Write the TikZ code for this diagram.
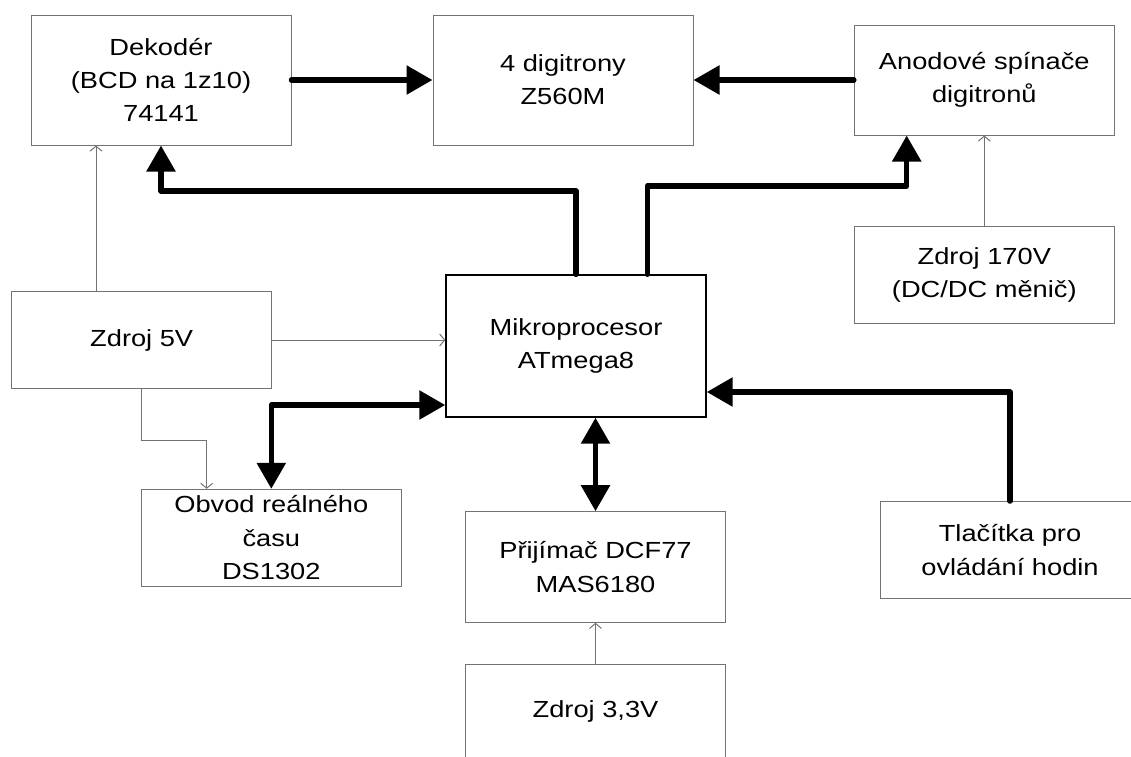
\documentclass[tikz,border=0pt]{standalone}
\usepackage{fontspec}
\setmainfont{Liberation Sans}[FakeStretch=1.17]
\usetikzlibrary{positioning,arrows.meta}
\definecolor{sedocerna}{rgb}{0.45,0.45,0.45}

\begin{document}
\begin{tikzpicture}[x=1pt, y=-1pt, on grid, semithick,
    font=\fontsize{23.3}{33.3}\selectfont,
    blok/.style={rectangle, draw=sedocerna, line width=1pt, minimum width=260pt, inner sep=0pt, align=center},
    bus/.style={line width=5.5pt, line cap=round, line join=round, -{Triangle[length=26pt,width=28pt]}},
    obous/.style={line width=5.5pt, line join=round, {Triangle[length=26pt,width=28pt]}-{Triangle[length=26pt,width=28pt]}},
    napajeni/.style={draw=sedocerna, line width=1pt, -{Straight Barb[length=5pt,width=12pt]}}]
			\useasboundingbox (0,0) rectangle (1131,756);
			\node [blok, minimum height=130pt] (dek) at (161,80) {Dekodér\\(BCD na 1z10)\\74141};
			\node [blok, minimum height=130pt] (dig) [right=402pt of dek] {4 digitrony\\Z560M};
			\node [blok, minimum height=110pt] (ano) [right=421.3pt of dig] {Anodové spínače\\digitronů};
			\node [blok, minimum height=96.7pt] (z170) [below=195pt of ano] {Zdroj 170V\\(DC/DC měnič)};
			\node [blok, draw=black, line width=1.4pt, minimum height=142pt] (mcu) [below right=266pt and 13pt of dig] {Mikroprocesor\\ATmega8};
			\node [blok, minimum height=96.7pt] (z5) [below left=260pt and 19.3pt of dek] {Zdroj 5V};
			\node [blok, minimum height=96.7pt] (rtc) [below right=197.7pt and 129.6pt of z5] {Obvod reálného\\času\\DS1302};
			\node [blok, minimum height=110.6pt] (dcf) [below right=221pt and 19.5pt of mcu] {Přijímač DCF77\\MAS6180};
			\node [blok, minimum height=95pt] (z33) [below=144.7pt of dcf] {Zdroj 3,3V};
			\node [blok, minimum height=97pt] (btn) [below right=275pt and 25.7pt of z170] {Tlačítka pro\\ovládání hodin};
			\coordinate (k1) at (0,191);
			\coordinate (k2) at (0,186);
			\coordinate (k3) at (0,440);
			\coordinate (k4) at (0,405);
			\coordinate (k5) at (0,392);
			\coordinate (mcuout) at ([xshift=71.3pt]mcu.north);
			\coordinate (anoin) at ([xshift=-77.6pt]ano.south);
			\coordinate (z5up) at ([xshift=-45.7pt]z5.north);
			\coordinate (rtcin) at ([xshift=-64.6pt]rtc.north);
			\draw [bus] (dek.east) -- (dig.west);
			\draw [bus] (ano.west) -- (dig.east);
			\draw [bus] (mcu.north) |- (k1 -| dek.south) -- (dek.south);
			\draw [bus] (mcuout) |- (k2 -| anoin) -- (anoin);
			\draw [bus] (btn.north) |- (k5 -| mcu.east);
			\draw [obous] (rtc.north) |- (k4 -| mcu.west);
			\draw [obous] (dcf.north |- mcu.south) -- (dcf.north);
			\draw [napajeni] (z5up) -- (z5up |- dek.south);
			\draw [napajeni] (z170) -- (ano);
			\draw [napajeni] (z5.east) -- (z5.east -| mcu.west);
			\draw [napajeni] (z5.south) |- (k3 -| rtcin) -- (rtcin);
			\draw [napajeni] (z33) -- (dcf);
		\end{tikzpicture}
\end{document}
